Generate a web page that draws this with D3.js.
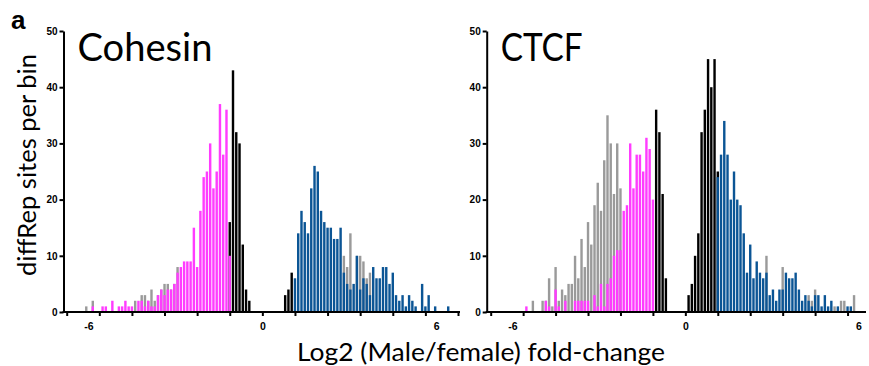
<!DOCTYPE html>
<html>
<head>
<meta charset="utf-8">
<script src="https://cdn.jsdelivr.net/npm/d3@7"></script>
<style>
  body { margin: 0; background: #fff; }
  svg { display: block; }
</style>
</head>
<body>
<svg id="chart"></svg>
<script>
const width = 869
const height = 366

// Histogram bins: bin b covers log2 fold-change b * binWidth, b = -60..60
const binWidth = 0.1125
const yTicks = [0, 10, 20, 30, 40, 50]
const xTickLabels = [-6, 0, 6]

// Cohesin counts per bin, each array starts at its "From" bin
const cohesinGrayNegFrom = -54
const cohesinGrayNeg = [1, 0, 2, 0, 0, 0, 0, 0, 0, 0, 0, 0, 0, 0, 0, 2, 0, 3, 3, 2, 4, 2, 3, 4, 5, 5, 4, 5, 8]
const cohesinGrayPosFrom = 25
const cohesinGrayPos = [10, 8, 14, 0, 10, 10, 9, 6, 7]
const cohesinPinkFrom = -52
const cohesinPink = [1, 0, 0, 1, 1, 0, 2, 0, 1, 1, 2, 1, 1, 0, 2, 2, 1, 2, 1, 1,
    3, 4, 3, 4, 4, 5, 7, 8, 9, 9, 9, 15, 8, 18, 24, 25, 30, 22, 25, 37, 28, 36, 10]
const cohesinBlackFrom = -10
const cohesinBlack = [16, 43, 32, 30, 12, 4, 2, 0, 0, 0, 0, 0, 0, 0, 0, 0, 0, 3, 4, 7]
const cohesinBlueFrom = 10
const cohesinBlue = [6, 14, 18, 16, 14, 22, 26, 25, 18, 16, 15, 15, 13, 13, 15, 7, 5, 4, 5, 10,
    4, 6, 5, 3, 8, 6, 6, 8, 8, 5, 7, 3, 2, 3, 1, 3, 2, 1, 0, 5, 1, 3, 0, 1, 0, 0, 0, 1]

// CTCF counts per bin
const ctcfGrayNegFrom = -47
const ctcfGrayNeg = [2, 0, 0, 2, 2, 6, 1, 8, 2, 4, 3, 5, 5, 10, 6, 13, 8, 16, 12, 19,
    23, 18, 27, 35, 30, 21, 30, 22]
const ctcfGrayPosFrom = 25
const ctcfGrayPos = [10, 0, 0, 0, 0, 8, 0, 0, 0, 0, 0, 0, 0, 3, 2, 4, 0, 0, 0, 0, 0, 1, 0, 2, 2, 0, 0, 3]
const ctcfPinkFrom = -49
const ctcfPink = [1, 0, 0, 0, 0, 0, 2, 1, 0, 4, 1, 0, 2, 0, 0, 2, 2, 2, 2, 2,
    0, 3, 1, 5, 1, 5, 6, 10, 11, 11, 18, 19, 30, 22, 28, 28, 25, 31, 29, 20]
const ctcfBlackFrom = -9
const ctcfBlack = [36, 32, 21, 6, 0, 0, 0, 0, 0, 0, 3, 5, 10, 14, 32, 36, 45, 40, 45, 25]
const ctcfBlueFrom = 10
const ctcfBlue = [24, 28, 34, 28, 20, 25, 20, 19, 14, 7, 12, 6, 9, 7, 6, 7, 3, 4, 2, 4,
    4, 7, 6, 6, 7, 4, 2, 3, 2, 1, 3, 3, 1, 3, 1, 2, 0, 1, 0, 0, 1, 1]

// Colours
const grayColor = "#9a9a9a"
const pinkColor = "#ff3cff"
const blackColor = "#000000"
const blueColor = "#0b5595"

const panels = [
    {
        title: "Cohesin", titleWidth: 135, axisX: 63.5, x0: 66.7, x1: 458, axisEnd: 460,
        series: [
            [cohesinGrayNegFrom, cohesinGrayNeg, grayColor],
            [cohesinGrayPosFrom, cohesinGrayPos, grayColor],
            [cohesinBlackFrom, cohesinBlack, blackColor],
            [cohesinPinkFrom, cohesinPink, pinkColor],
            [cohesinBlueFrom, cohesinBlue, blueColor]
        ]
    },
    {
        title: "CTCF", titleWidth: 82, axisX: 486.7, x0: 490.7, x1: 880, axisEnd: 866,
        series: [
            [ctcfGrayNegFrom, ctcfGrayNeg, grayColor],
            [ctcfGrayPosFrom, ctcfGrayPos, grayColor],
            [ctcfBlackFrom, ctcfBlack, blackColor],
            [ctcfPinkFrom, ctcfPink, pinkColor],
            [ctcfBlueFrom, ctcfBlue, blueColor]
        ]
    }
]

const svg = d3.select("#chart")
    .attr("width", width)
    .attr("height", height)

const y = d3.scaleLinear().domain([0, 50]).range([312, 31])

panels.forEach(panel => {
    const x = d3.scaleLinear()
        .domain([-60 * binWidth, 60 * binWidth])
        .range([panel.x0, panel.x1])
    const barPx = (x(binWidth) - x(0)) * 0.74

    const g = svg.append("g")

    panel.series.forEach(([from, counts, color]) => {
        const data = counts.map((n, i) => ({ bin: from + i, n: n })).filter(d => d.n > 0)
        g.append("g")
            .selectAll("rect")
            .data(data)
            .enter()
            .append("rect")
            .attr("x", d => x(d.bin * binWidth) - barPx / 2)
            .attr("width", barPx)
            .attr("y", d => y(d.n))
            .attr("height", d => y(0) - y(d.n))
            .attr("fill", color)
    })

    // x axis: ticks every 10 bins, labels at -6, 0, 6
    const tickVals = d3.range(-60, 61, 10)
        .map(b => b * binWidth)
        .filter(v => x(v) <= panel.axisEnd)

    const xTicks = g.append("g")
        .attr("transform", `translate(0,${y(0)})`)
        .call(d3.axisBottom(x).tickValues(tickVals).tickSize(4).tickSizeOuter(0).tickFormat(""))
    xTicks.select(".domain").remove()
    xTicks.selectAll("line").attr("stroke-width", 2)

    const xLabels = g.append("g")
        .attr("transform", `translate(0,${y(0)})`)
        .call(d3.axisBottom(x).tickValues(xTickLabels).tickSize(0).tickPadding(11).tickFormat(d3.format("d")))
    xLabels.select(".domain").remove()
    xLabels.selectAll("text")
        .attr("font-family", "Liberation Sans, Arial, sans-serif")
        .attr("font-weight", "bold")
        .attr("font-size", 10.5)
        .text(d => d < 0 ? "-" + Math.abs(d) : d)

    g.append("line")
        .attr("x1", panel.axisX - 1)
        .attr("x2", panel.axisEnd)
        .attr("y1", y(0))
        .attr("y2", y(0))
        .attr("stroke", "#000")
        .attr("stroke-width", 2)

    // y axis
    const yAxis = g.append("g")
        .attr("transform", `translate(${panel.axisX},0)`)
        .call(d3.axisLeft(y).tickValues(yTicks).tickSize(4).tickSizeOuter(0).tickPadding(2))
    yAxis.select(".domain").attr("stroke-width", 2)
    yAxis.selectAll("line").attr("stroke-width", 2)
    yAxis.selectAll("text")
        .attr("font-family", "Liberation Sans, Arial, sans-serif")
        .attr("font-weight", "bold")
        .attr("font-size", 10)

    g.append("text")
        .attr("x", panel.axisX + 14)
        .attr("y", 61)
        .attr("font-family", "Lato, sans-serif")
        .attr("font-size", 39)
        .attr("textLength", panel.titleWidth)
        .attr("lengthAdjust", "spacingAndGlyphs")
        .text(panel.title)
})

// panel letter
svg.append("text")
    .attr("x", 11)
    .attr("y", 29)
    .attr("font-family", "Liberation Sans, Arial, sans-serif")
    .attr("font-weight", "bold")
    .attr("font-size", 26)
    .text("a")

// axis titles
svg.append("text")
    .attr("transform", "translate(36,165) rotate(-90)")
    .attr("text-anchor", "middle")
    .attr("font-family", "Lato, sans-serif")
    .attr("font-size", 24.5)
    .attr("textLength", 222)
    .attr("lengthAdjust", "spacingAndGlyphs")
    .text("diffRep sites per bin")

svg.append("text")
    .attr("x", 481)
    .attr("y", 361)
    .attr("text-anchor", "middle")
    .attr("font-family", "Lato, sans-serif")
    .attr("font-size", 25.5)
    .attr("textLength", 368)
    .attr("lengthAdjust", "spacingAndGlyphs")
    .text("Log2 (Male/female) fold-change")
</script>
</body>
</html>
